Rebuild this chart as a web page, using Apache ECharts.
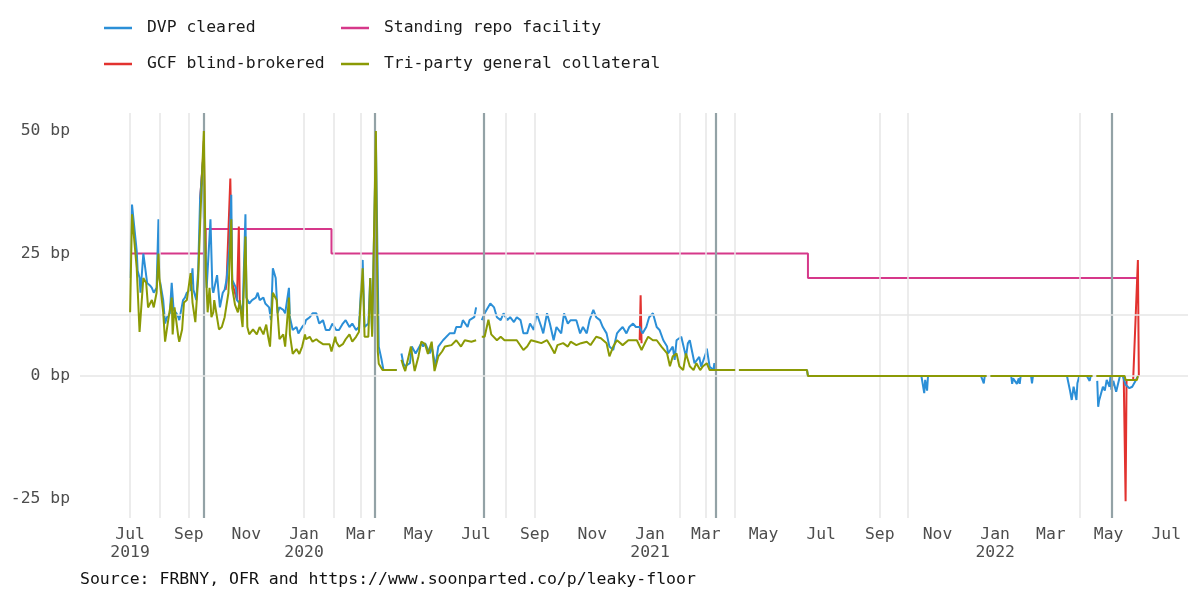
<!DOCTYPE html>
<html>
<head>
<meta charset="utf-8">
<title>Repo rates vs standing repo facility</title>
<script src="https://cdn.jsdelivr.net/npm/echarts@6/dist/echarts.min.js"></script>
<style>
  html, body { margin: 0; padding: 0; background: #fff; }
  #chart { width: 1200px; height: 600px; }
</style>
</head>
<body>
<div id="chart"></div>
<script>
// spreads to IOER, in bp
const dvpCleared = [
  ['2019-07-01',20],['2019-07-02',30],['2019-07-03',35],['2019-07-08',25.5],['2019-07-09',21.5],['2019-07-11',20],['2019-07-12',17],
  ['2019-07-15',25],['2019-07-17',22],['2019-07-19',19],['2019-07-22',18.5],['2019-07-24',18],['2019-07-26',17],['2019-07-29',18],
  ['2019-07-31',32],['2019-08-01',20],['2019-08-05',15.5],['2019-08-07',10.7],['2019-08-09',12],['2019-08-12',12.8],['2019-08-14',19],
  ['2019-08-16',13.5],['2019-08-19',12.8],['2019-08-21',12],['2019-08-22',11.4],['2019-08-26',15.5],['2019-08-28',16],['2019-08-30',17],
  ['2019-09-03',17.6],['2019-09-05',22],['2019-09-06',17.6],['2019-09-09',15.5],['2019-09-11',21.6],['2019-09-13',36],['2019-09-16',43.7],
  ['2019-09-17',32.5],['2019-09-19',24.4],['2019-09-20',18],['2019-09-24',32],['2019-09-26',18],['2019-09-27',17],['2019-10-01',20.6],
  ['2019-10-04',14],['2019-10-07',17],['2019-10-09',17.6],['2019-10-11',19.6],['2019-10-14',26],['2019-10-16',37],['2019-10-17',19.6],
  ['2019-10-21',18],['2019-10-22',15.5],['2019-10-25',14.8],['2019-10-28',12.8],['2019-10-31',33],['2019-11-01',16],['2019-11-04',14.8],
  ['2019-11-07',15.5],['2019-11-11',16],['2019-11-13',17],['2019-11-15',15.5],['2019-11-19',16],['2019-11-21',14.8],['2019-11-25',14],
  ['2019-11-27',11.4],['2019-11-29',22],['2019-12-02',20],['2019-12-04',12.8],['2019-12-06',14],['2019-12-10',13.5],['2019-12-12',12.8],
  ['2019-12-16',18],['2019-12-17',12],['2019-12-20',9.4],['2019-12-24',10],['2019-12-26',8.7],['2019-12-30',10],['2020-01-02',10.7],
  ['2020-01-03',11.4],['2020-01-07',12],['2020-01-10',12.8],['2020-01-14',12.8],['2020-01-17',10.7],['2020-01-21',11.4],['2020-01-24',9.4],
  ['2020-01-28',9.4],['2020-01-31',10.7],['2020-02-04',9.4],['2020-02-07',9.4],['2020-02-11',10.7],['2020-02-14',11.4],['2020-02-18',10],
  ['2020-02-21',10.7],['2020-02-25',9.4],['2020-02-28',10],['2020-03-03',23.7],['2020-03-05',10],['2020-03-09',10.7],['2020-03-11',20],
  ['2020-03-13',8.7],['2020-03-17',48],['2020-03-20',6],['2020-03-23',3.3],['2020-03-25',1.2],['2020-04-08',1.2],['2020-04-10',null],
  ['2020-04-13',4.6],['2020-04-15',2.6],['2020-04-17',2],['2020-04-22',2.6],['2020-04-24',6],['2020-04-28',4.6],['2020-05-04',6.7],
  ['2020-05-06',6],['2020-05-08',6.7],['2020-05-13',4.6],['2020-05-15',6],['2020-05-19',2],['2020-05-22',6],['2020-05-27',7.3],
  ['2020-05-29',7.7],['2020-06-03',8.7],['2020-06-08',8.7],['2020-06-10',10],['2020-06-15',10],['2020-06-17',11.4],['2020-06-22',10],
  ['2020-06-24',11.4],['2020-06-29',12],['2020-07-01',14],['2020-07-03',null],['2020-07-07',11.4],['2020-07-10',12.8],['2020-07-16',14.8],
  ['2020-07-20',14],['2020-07-23',12],['2020-07-27',11.4],['2020-07-30',12.8],['2020-08-03',11.4],['2020-08-06',12],['2020-08-10',11],
  ['2020-08-13',12],['2020-08-17',11.4],['2020-08-20',8.7],['2020-08-24',8.7],['2020-08-27',10.7],['2020-08-31',9.4],['2020-09-03',12.8],
  ['2020-09-08',10],['2020-09-10',8.7],['2020-09-14',12.8],['2020-09-17',10.7],['2020-09-21',7.3],['2020-09-24',10],['2020-09-29',8.7],
  ['2020-10-02',12.8],['2020-10-06',10.7],['2020-10-09',11.4],['2020-10-15',11.4],['2020-10-19',8.7],['2020-10-22',10],['2020-10-26',8.7],
  ['2020-10-29',11.4],['2020-11-02',13.5],['2020-11-05',12],['2020-11-09',11.4],['2020-11-12',10],['2020-11-16',8.7],['2020-11-19',6],
  ['2020-11-23',5.3],['2020-11-27',8.7],['2020-11-30',9.4],['2020-12-03',10],['2020-12-07',8.7],['2020-12-10',10],['2020-12-14',10.7],
  ['2020-12-17',10],['2020-12-21',10],['2020-12-24',8.7],['2020-12-28',10],['2020-12-31',12],['2021-01-04',12.8],['2021-01-08',10],
  ['2021-01-11',9.4],['2021-01-15',7.3],['2021-01-19',6],['2021-01-20',4.6],['2021-01-25',6],['2021-01-27',3.3],['2021-01-29',7.3],
  ['2021-02-03',8],['2021-02-08',3.9],['2021-02-10',6.7],['2021-02-12',7.3],['2021-02-17',2.6],['2021-02-22',3.9],['2021-02-24',1.9],
  ['2021-03-01',4.6],['2021-03-02',5.6],['2021-03-05',1.9],['2021-03-09',1.2],['2021-03-10',2.6],['2021-03-12',1.2],['2021-04-01',1.2],
  ['2021-04-02',null],['2021-04-05',1.2],['2021-06-16',1.2],['2021-06-17',0],['2021-10-15',0],['2021-10-18',-3.5],['2021-10-19',-0.8],
  ['2021-10-21',-3],['2021-10-22',0],['2021-12-17',0],['2021-12-20',-1.5],['2021-12-21',0],['2021-12-23',0],['2021-12-24',null],
  ['2021-12-27',0],['2022-01-18',0],['2022-01-19',-1.6],['2022-01-20',-0.5],['2022-01-24',-1.6],['2022-01-26',-0.5],['2022-01-27',-1.6],
  ['2022-01-28',0],['2022-02-08',0],['2022-02-09',-1.5],['2022-02-10',0],['2022-03-18',0],['2022-03-21',-2.8],['2022-03-23',-4.9],
  ['2022-03-25',-2.2],['2022-03-28',-4.9],['2022-03-29',-1.5],['2022-03-31',0],['2022-04-08',0],['2022-04-11',-1],['2022-04-12',0],
  ['2022-04-14',0],['2022-04-15',null],['2022-04-19',-1],['2022-04-20',-6.3],['2022-04-21',-5],['2022-04-22',-4.9],['2022-04-25',-2.2],
  ['2022-04-27',-3],['2022-04-29',-0.8],['2022-05-02',-2.2],['2022-05-03',0],['2022-05-04',-2.8],['2022-05-06',-1],['2022-05-09',-3.2],
  ['2022-05-11',-2.8],['2022-05-13',0],['2022-05-16',0],['2022-05-19',-1.8],['2022-05-23',-2.5],['2022-05-26',-2.2],['2022-05-30',-0.8],
  ['2022-06-01',0]
]

// only the stretches where GCF shows above the other rates
const gcfBlind = [
  ['2019-09-13',36],['2019-09-16',44],['2019-09-17',48],['2019-09-18',30],['2019-09-19',22],['2019-09-20',null],
  ['2019-10-10',17.6],['2019-10-11',19],['2019-10-15',40.3],['2019-10-17',19],['2019-10-22',15.5],['2019-10-24',30.5],['2019-10-25',14.8],
  ['2019-10-26',null],
  ['2020-12-21',7.3],['2020-12-22',16.5],['2020-12-23',6.7],['2020-12-24',null],
  ['2022-05-17',0],['2022-05-19',-25.6],['2022-05-20',-0.8],['2022-05-27',-0.8],['2022-06-01',23.7],['2022-06-02',0]
]

const triParty = [
  ['2019-07-01',13],['2019-07-03',33],['2019-07-08',22],['2019-07-11',9],['2019-07-15',20],['2019-07-18',19],['2019-07-20',14],
  ['2019-07-24',15.5],['2019-07-26',14],['2019-07-29',17],['2019-07-31',25],['2019-08-01',20],['2019-08-05',13],['2019-08-07',7],
  ['2019-08-10',11],['2019-08-14',16],['2019-08-15',8.5],['2019-08-17',14],['2019-08-21',8],['2019-08-22',7],['2019-08-25',9.5],
  ['2019-08-27',15],['2019-08-30',15.5],['2019-09-03',21],['2019-09-05',15],['2019-09-08',11],['2019-09-11',20],['2019-09-15',41],
  ['2019-09-17',50],['2019-09-19',22],['2019-09-21',13],['2019-09-23',18],['2019-09-25',12],['2019-09-27',13],['2019-09-28',15.5],
  ['2019-09-30',15.5],['2019-10-03',9.5],['2019-10-06',10],['2019-10-09',12],['2019-10-13',17],['2019-10-14',22],['2019-10-16',32],
  ['2019-10-17',18],['2019-10-20',14.5],['2019-10-23',13],['2019-10-25',15.5],['2019-10-27',11.5],['2019-10-28',10],['2019-10-31',28.5],
  ['2019-11-02',10],['2019-11-04',8.5],['2019-11-08',9.5],['2019-11-12',8.5],['2019-11-15',10],['2019-11-19',8.5],['2019-11-22',10.5],
  ['2019-11-24',8],['2019-11-26',6],['2019-11-29',17],['2019-12-03',15.5],['2019-12-06',7.5],['2019-12-10',8.5],['2019-12-12',6],
  ['2019-12-16',16],['2019-12-17',8.5],['2019-12-20',4.5],['2019-12-24',5.5],['2019-12-27',4.5],['2019-12-30',6],['2020-01-02',8.5],
  ['2020-01-03',7.5],['2020-01-07',8],['2020-01-10',7],['2020-01-14',7.5],['2020-01-17',7],['2020-01-21',6.5],['2020-01-28',6.5],
  ['2020-01-30',5],['2020-02-03',8],['2020-02-04',7],['2020-02-07',6],['2020-02-11',6.5],['2020-02-14',7.5],['2020-02-18',8.5],
  ['2020-02-21',7],['2020-02-25',8],['2020-02-28',9],['2020-03-03',22],['2020-03-05',8],['2020-03-09',8],['2020-03-11',20],
  ['2020-03-13',8],['2020-03-17',50],['2020-03-19',5],['2020-03-20',2.5],['2020-03-24',1.2],['2020-04-08',1.2],['2020-04-10',null],
  ['2020-04-13',3.3],['2020-04-15',2],['2020-04-17',1],['2020-04-23',6],['2020-04-27',1],['2020-05-01',4],['2020-05-04',7],
  ['2020-05-08',6.5],['2020-05-11',4.5],['2020-05-15',7],['2020-05-18',1],['2020-05-22',4],['2020-05-26',5],['2020-05-29',6],
  ['2020-06-05',6.3],['2020-06-10',7.3],['2020-06-15',6],['2020-06-19',7.3],['2020-06-26',7],['2020-07-01',7.3],['2020-07-03',null],
  ['2020-07-07',8],['2020-07-10',8],['2020-07-14',11.5],['2020-07-17',8.5],['2020-07-23',7.3],['2020-07-27',8],['2020-07-31',7.3],
  ['2020-08-06',7.3],['2020-08-13',7.3],['2020-08-20',5.3],['2020-08-24',6],['2020-08-28',7.3],['2020-09-03',7],['2020-09-08',6.7],
  ['2020-09-14',7.3],['2020-09-18',6],['2020-09-22',4.6],['2020-09-25',6.3],['2020-10-01',6.7],['2020-10-06',6],['2020-10-09',7],
  ['2020-10-15',6.3],['2020-10-20',6.7],['2020-10-26',7],['2020-10-30',6.3],['2020-11-05',8],['2020-11-10',7.7],['2020-11-16',6.7],
  ['2020-11-19',4],['2020-11-23',6],['2020-11-27',7.3],['2020-12-03',6.3],['2020-12-09',7.3],['2020-12-14',7.3],['2020-12-18',7.3],
  ['2020-12-23',5.3],['2020-12-28',7.3],['2020-12-30',8],['2021-01-04',7.3],['2021-01-08',7.3],['2021-01-13',6],['2021-01-19',4.6],
  ['2021-01-22',2],['2021-01-25',4],['2021-01-29',4.6],['2021-02-01',2],['2021-02-05',1.2],['2021-02-08',4.6],['2021-02-12',2],
  ['2021-02-16',1.2],['2021-02-19',2.6],['2021-02-23',1.2],['2021-02-26',2],['2021-03-02',2.6],['2021-03-05',1.2],['2021-04-01',1.2],
  ['2021-04-02',null],['2021-04-05',1.2],['2021-06-16',1.2],['2021-06-17',0],['2021-12-23',0],['2021-12-24',null],['2021-12-27',0],
  ['2022-04-14',0],['2022-04-15',null],['2022-04-18',0],['2022-05-18',0],['2022-05-19',-0.8],['2022-05-31',-0.8],['2022-06-01',0]
]

// standing repo facility minimum bid, step changes
const standingRepo = [
  ['2019-07-01',25],['2019-09-19',30],['2020-01-30',25],['2021-06-17',20],['2022-06-01',20]
]

// dark grey event lines and the lighter month lines
const eventDates = ['2019-09-17','2020-03-16','2020-07-09','2021-03-12','2022-05-04']
const monthLines = ['2019-07-01','2019-08-01','2019-09-01','2020-01-01','2020-02-01','2020-03-01','2020-08-01',
  '2020-09-01','2021-02-01','2021-03-01','2021-04-01','2021-09-01','2021-10-01','2022-04-01']
const hLines = [0, 12.5]

const yTicks = [-25, 0, 25, 50]
const xTicks = ['2019-07-01','2019-09-01','2019-11-01','2020-01-01','2020-03-01','2020-05-01','2020-07-01','2020-09-01',
  '2020-11-01','2021-01-01','2021-03-01','2021-05-01','2021-07-01','2021-09-01','2021-11-01','2022-01-01','2022-03-01',
  '2022-05-01','2022-07-01']
const monthNames = ['Jan','Feb','Mar','Apr','May','Jun','Jul','Aug','Sep','Oct','Nov','Dec']

const FONT = 'DejaVu Sans Mono'

function ts(s) {
  const p = s.split('-').map(Number)
  return new Date(p[0], p[1] - 1, p[2]).getTime()
}
// dates -> timestamps for the value axis
function toPoints(rows) {
  return rows.map(r => [ts(r[0]), r[1]])
}

const chart = echarts.init(document.getElementById('chart'))

function legendAt(name, left, top) {
  return {
    data: [name],
    left: left,
    top: top,
    padding: 0,
    icon: 'rect',
    itemWidth: 28,
    itemHeight: 2.5,
    selectedMode: false,
    textStyle: { fontFamily: FONT, fontSize: 16.4, color: '#1a1a1a', padding: [0, 0, 0, 10] }
  }
}

const guideLines = []
monthLines.forEach(d => guideLines.push({ xAxis: ts(d), lineStyle: { color: '#e6e6e6', width: 1.5, type: 'solid' } }))
eventDates.forEach(d => guideLines.push({ xAxis: ts(d), lineStyle: { color: '#93a2a6', width: 2.2, type: 'solid' } }))
hLines.forEach(v => guideLines.push({ yAxis: v, lineStyle: { color: '#e6e6e6', width: 1.5, type: 'solid' } }))

function lineSeries(name, rows, color, z) {
  return {
    name: name,
    type: 'line',
    data: toPoints(rows),
    symbol: 'none',
    showSymbol: false,
    connectNulls: false,
    z: z,
    lineStyle: { color: color, width: 2 },
    itemStyle: { color: color }
  }
}

chart.setOption({
  animation: false,
  backgroundColor: '#fff',
  title: {
    text: 'Source: FRBNY, OFR and https://www.soonparted.co/p/leaky-floor',
    left: 80,
    top: 571,
    padding: 0,
    textStyle: { fontFamily: FONT, fontSize: 16.5, fontWeight: 'normal', color: '#111' }
  },
  legend: [
    legendAt('DVP cleared', 104, 20),
    legendAt('GCF blind-brokered', 104, 56),
    legendAt('Standing repo facility', 341, 20),
    legendAt('Tri-party general collateral', 341, 56)
  ],
  grid: { left: 80, right: 12, top: 113, bottom: 82 },
  xAxis: {
    type: 'value',
    min: ts('2019-05-09'),
    max: ts('2022-07-24'),
    axisLine: { show: false },
    axisTick: { show: false },
    splitLine: { show: false },
    axisLabel: {
      customValues: xTicks.map(ts),
      margin: 8,
      fontFamily: FONT,
      fontSize: 16.4,
      lineHeight: 18,
      color: '#4d4d4d',
      formatter: function (val) {
        const d = new Date(val)
        const m = monthNames[d.getMonth()]
        if (d.getMonth() === 0 || (d.getFullYear() === 2019 && d.getMonth() === 6)) {
          return m + '\n' + d.getFullYear()
        }
        return m
      }
    }
  },
  yAxis: {
    type: 'value',
    min: -29,
    max: 53.7,
    axisLine: { show: false },
    axisTick: { show: false },
    splitLine: { show: false },
    axisLabel: {
      customValues: yTicks,
      margin: 10,
      fontFamily: FONT,
      fontSize: 16.4,
      color: '#4d4d4d',
      formatter: v => v + ' bp'
    }
  },
  series: [
    {
      // carries the grid/event lines only
      name: 'guides',
      type: 'line',
      data: toPoints(standingRepo),
      symbol: 'none',
      z: 1,
      silent: true,
      lineStyle: { opacity: 0 },
      markLine: {
        silent: true,
        symbol: ['none', 'none'],
        label: { show: false },
        animation: false,
        data: guideLines
      }
    },
    Object.assign(lineSeries('Standing repo facility', standingRepo, '#d6388a', 2), { step: 'end' }),
    lineSeries('GCF blind-brokered', gcfBlind, '#e2322f', 3),
    lineSeries('DVP cleared', dvpCleared, '#2b8fd7', 4),
    lineSeries('Tri-party general collateral', triParty, '#8b9a05', 5)
  ]
})
</script>
</body>
</html>
